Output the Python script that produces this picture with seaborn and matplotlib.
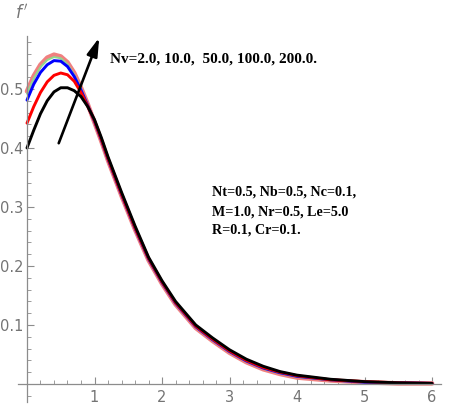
import numpy as np
import pandas as pd
import matplotlib
matplotlib.use("Agg")
import matplotlib.pyplot as plt
from matplotlib.ticker import MultipleLocator
import seaborn as sns

# similarity variable eta and velocity profiles f'(eta) for several Nv
eta = [0.0, 0.1, 0.2, 0.3, 0.4, 0.5, 0.6, 0.7, 0.8, 0.9, 1.0, 1.1, 1.2,
       1.4, 1.6, 1.8, 2.0, 2.2,
       2.5, 2.75, 3.0, 3.25, 3.5, 3.75, 4.0,
       4.5, 5.0, 5.5, 6.0]

fp_nv2 = [0.400, 0.430, 0.458, 0.480, 0.495, 0.502, 0.502, 0.497, 0.487, 0.470, 0.448, 0.418, 0.385,
          0.325, 0.268, 0.215, 0.175, 0.140,
          0.100, 0.078, 0.058, 0.042, 0.030, 0.021, 0.015,
          0.008, 0.004, 0.002, 0.001]
fp_nv10 = [0.442, 0.470, 0.494, 0.512, 0.523, 0.527, 0.524, 0.513, 0.494, 0.471, 0.446, 0.415, 0.382,
           0.322, 0.265, 0.213, 0.173, 0.138,
           0.098, 0.076, 0.056, 0.040, 0.028, 0.020, 0.014,
           0.007, 0.004, 0.002, 0.001]
fp_nv50 = [0.481, 0.508, 0.528, 0.541, 0.548, 0.547, 0.538, 0.521, 0.498, 0.472, 0.445, 0.414, 0.381,
           0.321, 0.264, 0.212, 0.172, 0.137,
           0.097, 0.075, 0.055, 0.039, 0.027, 0.019, 0.013,
           0.007, 0.003, 0.002, 0.001]
fp_nv100 = [0.492, 0.518, 0.537, 0.549, 0.554, 0.552, 0.542, 0.524, 0.500, 0.473, 0.444, 0.413, 0.380,
            0.320, 0.263, 0.211, 0.171, 0.136,
            0.096, 0.074, 0.054, 0.038, 0.026, 0.018, 0.012,
            0.006, 0.003, 0.001, 0.001]
fp_nv200 = [0.496, 0.522, 0.541, 0.553, 0.558, 0.555, 0.545, 0.527, 0.502, 0.474, 0.443, 0.412, 0.379,
            0.319, 0.262, 0.210, 0.170, 0.135,
            0.095, 0.073, 0.053, 0.037, 0.025, 0.017, 0.011,
            0.006, 0.003, 0.001, 0.001]

x_ticks = [1, 2, 3, 4, 5, 6]
y_ticks = [0.1, 0.2, 0.3, 0.4, 0.5]

sns.set_style("white")
plt.rcParams["font.family"] = ["Liberation Sans Narrow", "DejaVu Sans"]

fig = plt.figure(figsize=(4.52, 4.07), dpi=100)
ax = fig.add_axes([0.0403, 0.013, 0.935, 0.899])

# drawing order: widest/top curve first, Nv=2 on top
series = [
    (fp_nv200, "#f08080", 3.3),
    (fp_nv100, "#8fd98f", 1.4),
    (fp_nv50, "#0000ff", 2.1),
    (fp_nv10, "#ff0000", 2.1),
    (fp_nv2, "#000000", 2.1),
]
for vals, col, lw in series:
    sns.lineplot(x=eta, y=vals, color=col, linewidth=lw, ax=ax, legend=False)
for line in ax.get_lines():
    line.set_solid_joinstyle("round")
    line.set_solid_capstyle("round")

ax.set_xlim(-0.13, 6.13)
ax.set_ylim(-0.03, 0.59)

axis_gray = "#8c8c8c"
label_gray = "#747474"
for side in ("top", "right"):
    ax.spines[side].set_visible(False)
ax.spines["left"].set_position(("data", 0))
ax.spines["bottom"].set_position(("data", 0))
for side in ("left", "bottom"):
    ax.spines[side].set_color(axis_gray)
    ax.spines[side].set_linewidth(0.9)

ax.set_xticks(x_ticks)
ax.set_yticks(y_ticks)
ax.set_xticklabels([str(v) for v in x_ticks])
ax.set_yticklabels([f"{v:.1f}" for v in y_ticks])
ax.xaxis.set_minor_locator(MultipleLocator(0.2))
ax.yaxis.set_minor_locator(MultipleLocator(0.02))
ax.tick_params(axis="both", which="major", direction="in", length=5, width=0.8,
               color=axis_gray, labelcolor=label_gray, labelsize=10.5)
ax.tick_params(axis="both", which="minor", direction="in", length=3, width=0.6,
               color=axis_gray)
ax.tick_params(axis="x", which="major", pad=4)
ax.tick_params(axis="y", which="major", pad=2.5)
ax.tick_params(axis="x", which="both", bottom=True)
ax.tick_params(axis="y", which="both", left=True)
ax.set_xlabel("")
ax.set_ylabel("")

fig.text(0.048, 0.968, r"$f\,'$", color=label_gray, fontsize=12,
         ha="center", va="center")

# arrow indicating increasing Nv
ax.annotate("", xy=(1.07, 0.587), xytext=(0.47, 0.408),
            arrowprops=dict(arrowstyle="-|>,head_length=1.1,head_width=0.32",
                            color="black", lw=1.9, shrinkA=0, shrinkB=0))

serif_bold = dict(family=["Liberation Serif", "DejaVu Serif"], weight="bold",
                  color="black")
ax.text(1.23, 0.550, "Nv=2.0, 10.0,  50.0, 100.0, 200.0.", ha="left", va="center",
        fontsize=11, **serif_bold)
ax.text(2.74, 0.326, "Nt=0.5, Nb=0.5, Nc=0.1,", ha="left", va="center",
        fontsize=10.2, **serif_bold)
ax.text(2.74, 0.292, "M=1.0, Nr=0.5, Le=5.0", ha="left", va="center",
        fontsize=10.2, **serif_bold)
ax.text(2.74, 0.261, "R=0.1, Cr=0.1.", ha="left", va="center",
        fontsize=10.2, **serif_bold)

fig.savefig("out.png", dpi=100)
